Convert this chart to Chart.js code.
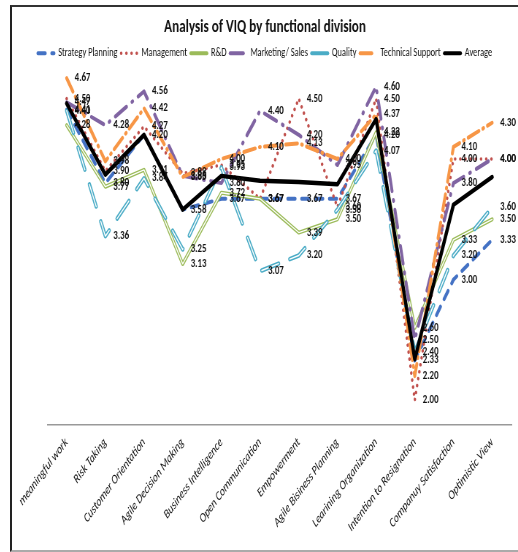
<!DOCTYPE html>
<html>
<head>
<meta charset="utf-8">
<script src="https://cdn.jsdelivr.net/npm/chart.js@4.4.1/dist/chart.umd.min.js"></script>
<style>
  html, body { margin: 0; padding: 0; background: #fff; overflow: hidden; }
  #frame {
    position: absolute; left: 10px; top: 5px; width: 506px; height: 543px;
    border-left: 2px solid #222; border-top: 2px solid #333; border-bottom: 2px solid #aaa;
    overflow: hidden;
  }
  /* the original picture is squeezed sideways, so draw wide and squeeze */
  #wrap {
    position: absolute; left: 0; top: 0; width: 693px; height: 543px;
    transform: scaleX(0.7302); transform-origin: 0 0;
  }
</style>
</head>
<body>
<div id="frame"><div id="wrap"><canvas id="viq"></canvas></div></div>
<script>
// categories and values
const categories = ['meaningful work', 'Risk Taking', 'Customer Orientation', 'Agile Decision Making',
  'Business Intelligence', 'Open Communication', 'Empowerment', 'Agile Bisiness Planning',
  'Learining Organization', 'Intention to Resignation', 'Companuy Satisfaction', 'Optimistic View'];

const strategyPlanning = [4.41, 3.80, 4.20, 3.58, 3.67, 3.67, 3.67, 3.67, 4.20, 2.33, 3.00, 3.33];
const management       = [4.50, 3.90, 4.27, 3.88, 3.95, 3.67, 4.50, 3.60, 4.50, 2.00, 4.00, 4.00];
const researchDev      = [4.28, 3.77, 3.91, 3.13, 3.72, 3.67, 3.39, 3.50, 4.22, 2.60, 3.33, 3.50];
const marketingSales   = [4.47, 4.28, 4.56, 3.86, 3.80, 4.40, 4.20, 3.95, 4.60, 2.50, 3.80, 4.00];
const quality          = [4.40, 3.36, 3.84, 3.25, 3.93, 3.07, 3.20, 3.58, 4.07, 2.40, 3.20, 3.60];
const technicalSupport = [4.67, 3.98, 4.42, 3.85, 4.00, 4.10, 4.13, 4.00, 4.37, 2.20, 4.10, 4.30];
const average          = [4.46, 3.87, 4.20, 3.58, 3.86, 3.82, 3.81, 3.79, 4.33, 2.34, 3.62, 3.85];

const FONT = "Carlito, 'Liberation Sans', sans-serif";

// value labels drawn next to each point of the division series
const valueLabels = {
  id: 'valueLabels',
  afterDatasetsDraw(chart) {
    const ctx = chart.ctx;
    ctx.save();
    ctx.font = 'bold 12px ' + FONT;
    ctx.fillStyle = '#111';
    ctx.textBaseline = 'middle';
    chart.data.datasets.forEach((ds, i) => {
      if (!ds.showValues) return;
      chart.getDatasetMeta(i).data.forEach((pt, j) => {
        ctx.fillText(ds.data[j].toFixed(2), pt.x + 11, pt.y);
      });
    });
    ctx.restore();
  }
};

function series(label, data, color, width, dash, extra) {
  return Object.assign({
    label: label,
    data: data,
    borderColor: color,
    backgroundColor: color,
    borderWidth: width,
    borderDash: dash,
    borderCapStyle: 'round',
    borderJoinStyle: 'round',
    pointRadius: 0,
    tension: 0,
    fill: false,
    clip: false
  }, extra || {});
}

const datasets = [
  series('Average', average, '#000000', 4.5, [], { order: 0 }),
  series('Technical Support', technicalSupport, '#F79646', 4, [16, 6, 1, 6], { showValues: true, order: 1 }),
  // inner white stroke makes the "double" lines
  series('_qualityInner', quality, '#ffffff', 1.4, [24, 16], { order: 2 }),
  series('Quality', quality, '#4BACC6', 4.5, [24, 16], { showValues: true, order: 3 }),
  series('Marketing/ Sales', marketingSales, '#8064A2', 4, [18, 9, 1, 9], { showValues: true, order: 4 }),
  series('_rdInner', researchDev, '#ffffff', 1.3, [], { order: 5 }),
  series('R&D', researchDev, '#9BBB59', 4, [], { showValues: true, order: 6 }),
  series('Management', management, '#C0504D', 3.5, [0.1, 7], { showValues: true, order: 7 }),
  series('Strategy Planning', strategyPlanning, '#4472C4', 4, [10, 9], { showValues: true, order: 8 })
];

const legendOrder = ['Strategy Planning', 'Management', 'R&D', 'Marketing/ Sales', 'Quality', 'Technical Support', 'Average'];

new Chart(document.getElementById('viq'), {
  type: 'line',
  data: { labels: categories, datasets: datasets },
  plugins: [valueLabels],
  options: {
    responsive: true,
    maintainAspectRatio: false,
    animation: false,
    layout: { padding: { left: 9, right: 9, top: 2, bottom: 0 } },
    plugins: {
      title: {
        display: true,
        text: 'Analysis of VIQ by functional division',
        color: '#111',
        font: { family: FONT, size: 18, weight: 'bold' },
        padding: { top: 8, bottom: 4 }
      },
      legend: {
        display: true,
        labels: {
          color: '#111',
          font: { family: FONT, size: 11.5 },
          usePointStyle: true,
          pointStyle: 'line',
          pointStyleWidth: 22,
          boxHeight: 12,
          padding: 5,
          generateLabels(chart) {
            return legendOrder.map(name => {
              const ds = chart.data.datasets.find(d => d.label === name);
              return {
                text: name,
                fillStyle: ds.borderColor,
                strokeStyle: ds.borderColor,
                lineWidth: Math.min(ds.borderWidth, 4),
                lineDash: ds.borderDash,
                lineCap: 'round',
                pointStyle: 'line',
                fontColor: '#111',
                hidden: false,
                datasetIndex: chart.data.datasets.indexOf(ds)
              };
            });
          }
        }
      },
      tooltip: { enabled: false }
    },
    scales: {
      x: {
        offset: true,
        grid: { display: false, drawTicks: false },
        border: { display: true, color: '#999', width: 1.5 },
        ticks: {
          color: '#111',
          font: { family: FONT, size: 13, style: 'italic' },
          minRotation: 45,
          maxRotation: 45,
          padding: 10,
          autoSkip: false
        },
        afterFit(scale) { scale.height = 125; }
      },
      y: {
        display: true,
        min: 1.795,
        max: 4.745,
        ticks: { display: false },
        grid: { display: false, drawTicks: false },
        border: { display: false },
        afterFit(scale) { scale.width = 35; }
      }
    }
  }
});
</script>
</body>
</html>
